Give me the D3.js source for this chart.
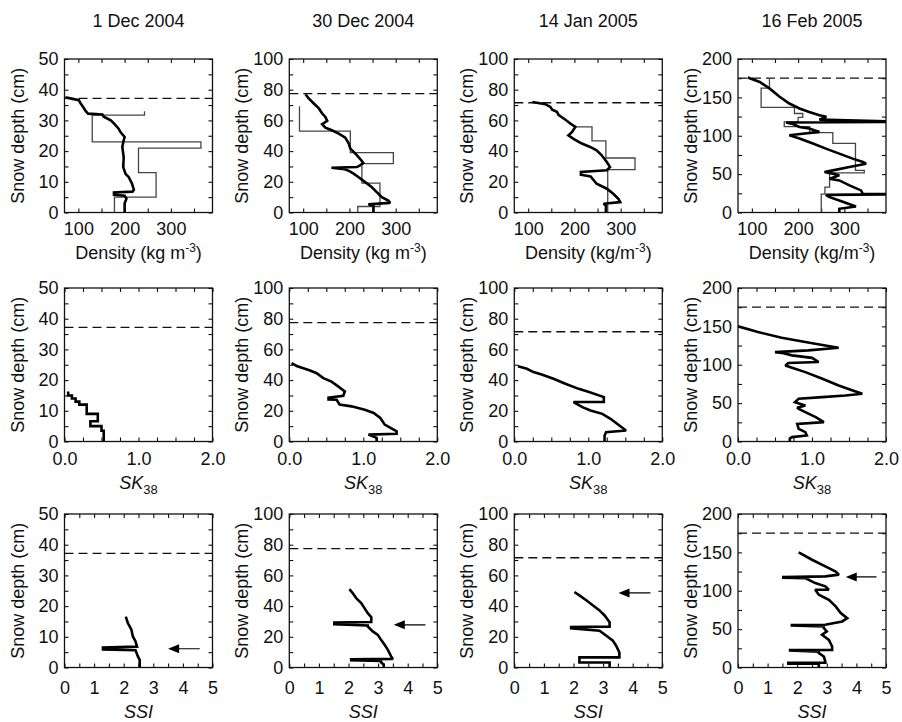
<!DOCTYPE html>
<html>
<head>
<meta charset="utf-8">
<script src="https://cdn.jsdelivr.net/npm/d3@7"></script>
<style>
body { margin: 0; background: #fff; }
svg { display: block; font-family: "Liberation Sans", Arial, Helvetica, sans-serif; }
</style>
</head>
<body>
<svg id="chart" width="902" height="722"></svg>
<script>
// one column per profile date
const dates = ["1 Dec 2004", "30 Dec 2004", "14 Jan 2005", "16 Feb 2005"];
const depthMax = [50, 100, 100, 200];
const depthMinor = [5, 10, 10, 25];
const depthMajor = [10, 20, 20, 50];
const snowDepth = [37.2, 77.5, 71.5, 175];

// row 1: density, [depth cm, kg m-3]; model = thick, obs = thin layered profile
const rhoModel1 = [[37.5,72],[36.6,101],[35.5,105],[34.2,111],[33,116],[32.2,121],[31.9,152],[31.2,155],[30,170],[29,177],[27.3,187],[26.2,191],[24.6,200],[23.5,198],[21.4,195],[18,198],[14.8,197],[12.6,202],[11.5,209],[9.4,216],[7.4,220],[6.8,217],[6.5,177],[5.8,177],[5.5,200],[4.5,204],[3,200],[0,200]];
const rhoModel2 = [[77,105],[74.3,112],[71,123],[67.8,134],[64.5,141],[62.3,148],[59.7,152],[57.5,141],[55.3,148],[53.6,162],[51.4,177],[48.8,191],[45.3,198],[41.6,202],[38.3,213],[35,223],[32.2,230],[30.7,223],[29.6,216],[29.2,161],[28.2,190],[27,200],[25.3,209],[23,220],[19.8,234],[16.6,248],[13.3,259],[10,270],[7.8,284],[6.3,288],[5.4,241],[4.4,252],[0,252]];
const rhoModel3 = [[72,109],[70.6,137],[68.8,148],[67,152],[65.6,162],[63.4,166],[60.6,180],[58,191],[55.8,202],[52.5,195],[50.3,187],[48,198],[44.9,216],[42.7,234],[40.5,248],[37.3,259],[32.9,270],[29.6,277],[27.5,270],[26.4,214],[24.6,214],[23.5,235],[18.7,248],[15.5,270],[12.2,284],[8.9,295],[6.8,299],[5.7,263],[4.5,268],[0,268]];
const rhoModel4 = [[176,91],[170,117],[161.7,138],[150.8,160],[142,181],[135.5,203],[131,224],[126.8,246],[124.6,261],[121,246],[118.2,420],[117.3,174],[115,190],[111.5,203],[109.4,224],[105,246],[102,200],[100.6,181],[96.3,203],[89.8,232],[83.2,260],[76.7,289],[70.2,318],[65.8,340],[63.6,347],[59.3,311],[54.9,275],[52.7,257],[50.5,275],[48.4,289],[44,268],[41.8,289],[35.3,311],[28.8,336],[24.4,340],[23.8,420],[23,260],[20,268],[15.7,289],[7.8,325],[4.8,289],[0,289]];
const rhoObs1 = [[33,243],[31.7,130],[23,365],[21,230],[13,268],[5,178]];
const rhoObs2 = [[69.3,92],[53,202],[39,295],[31.8,227],[19.2,266],[3.9,218]];
const rhoObs3 = [[55.8,200],[55.8,238],[46.6,268],[35.5,331],[27.9,272]];
const rhoObs4 = [[174,138],[162,120],[137,192],[129,210],[124,200],[118,170],[112,225],[104,275],[90,324],[55,343],[51.5,268],[33,258],[24,250]];

// row 2: SK38, [depth, SK38]
const sk1 = [[16.3,0.05],[15,0.05],[15,0.1],[14,0.1],[14,0.15],[13,0.15],[13,0.2],[12,0.2],[12,0.3],[9,0.3],[9,0.45],[6.6,0.45],[6.6,0.35],[5,0.35],[5,0.5],[3.5,0.5],[3.5,0.53],[0,0.53]];
const sk2 = [[51,0.03],[49.2,0.1],[47.7,0.19],[46.2,0.28],[44.5,0.37],[41.3,0.46],[39,0.57],[35.9,0.66],[32.6,0.75],[29.8,0.73],[28.6,0.53],[27.4,0.53],[27.2,0.64],[24,0.68],[22.9,0.84],[20.7,1.02],[18.6,1.14],[15.3,1.23],[11,1.29],[7.8,1.41],[6.7,1.45],[5,1.45],[4.5,1.07],[2.4,1.18],[0,1.18]];
const sk3 = [[49,0.05],[47.4,0.17],[45.2,0.26],[43.7,0.37],[40.9,0.53],[37.6,0.69],[34.3,0.87],[32.2,1.01],[28.9,1.21],[25.7,1.21],[25.7,0.8],[22.4,0.92],[20.2,1.03],[18,1.19],[14.8,1.3],[10.4,1.42],[7.2,1.51],[6.1,1.24],[3.9,1.22],[0,1.22]];
const sk4 = [[150,0],[142.6,0.27],[135.2,0.59],[129.6,0.91],[125.2,1.18],[122.2,1.36],[118.7,0.95],[116.5,0.5],[115.5,0.59],[112.2,0.73],[109,1.0],[103.5,1.09],[102.2,0.68],[99,0.64],[96,0.73],[90.4,0.91],[81.7,1.14],[73,1.36],[66.5,1.55],[62.2,1.68],[60,1.45],[57.8,1.14],[55.7,0.82],[51.3,0.77],[47,0.91],[44,0.8],[42.6,0.82],[38.3,0.91],[31.7,1.05],[25.2,1.16],[23,0.8],[16.5,0.82],[12.2,0.91],[7.8,0.93],[5.7,0.73],[4,0.7],[0,0.7]];

// row 3: SSI, [depth, SSI]
const ssi1 = [[16.6,2.07],[14.5,2.14],[12.3,2.26],[10.1,2.31],[8.5,2.4],[6.8,2.45],[6.5,1.3],[5.9,1.3],[5.6,2.4],[3.6,2.48],[2.5,2.54],[0,2.54]];
const ssi2 = [[51,2.03],[48.5,2.14],[45.2,2.26],[42,2.43],[38.7,2.54],[35.4,2.65],[32.8,2.77],[29.6,2.77],[29.3,1.52],[28.2,1.52],[27.4,2.65],[26.7,2.65],[23.5,2.82],[21.3,2.99],[18,3.1],[14.8,3.22],[11.5,3.33],[7.2,3.44],[5.6,3.5],[5.3,2.09],[4.7,2.09],[4.2,3.1],[3.3,3.1],[2,3.19],[0,3.19]];
const ssi3 = [[49.2,2.03],[47,2.2],[43.8,2.43],[40.5,2.65],[37.2,2.88],[33.9,3.05],[29.5,3.22],[26.6,3.22],[26.4,1.92],[25.6,1.92],[24,2.88],[20.8,3.1],[17.5,3.33],[14.2,3.44],[9.8,3.55],[6.6,3.55],[6.6,2.2],[3.3,2.2],[3.3,3.22],[0,3.22]];
const ssi4 = [[150,2.05],[140.4,2.5],[131.7,2.95],[125,3.3],[121,3.41],[118.7,2.95],[117.8,1.53],[117,1.53],[116.5,2.27],[110,2.61],[105.7,2.95],[101.3,3.07],[101.3,2.61],[94.8,2.73],[88.3,3.07],[79.6,3.3],[70.9,3.47],[64.3,3.69],[60,3.52],[55.7,2.95],[55.2,1.82],[54.6,1.82],[53.5,2.9],[51.3,2.9],[47,3.0],[42.6,2.84],[36,3.07],[27.4,3.18],[23,3.18],[22.6,1.76],[22,1.76],[20.5,2.73],[18.7,2.73],[14.3,2.9],[7.8,2.95],[6.4,2.95],[6.2,1.7],[5,1.7],[4.8,2.73],[0,2.73]];

// arrows in the SSI row: depth, tail, head
const arrowDepth = [6.1, 27.8, 48.6, 118];
const arrowFrom = [4.57, 4.6, 4.6, 4.68];
const arrowTo = [3.5, 3.53, 3.52, 3.64];

const rhoModel = [rhoModel1, rhoModel2, rhoModel3, rhoModel4];
const rhoObs = [rhoObs1, rhoObs2, rhoObs3, rhoObs4];
const skData = [sk1, sk2, sk3, sk4];
const ssiData = [ssi1, ssi2, ssi3, ssi4];

const colLeft = [64.5, 289.3, 514.3, 738];
const rowTop = [59, 288, 514];
const W = 148, H = 153.5;
const fontSize = 18;

const svg = d3.select("#chart");

const rows = [
  { domain: [70, 390], minor: d3.range(100, 351, 50), major: [100, 200, 300], fmt: d3.format("d"), pad: 10, labelY: 46 },
  { domain: [0, 2], minor: d3.range(0, 2.01, 0.25), major: [0, 1, 2], fmt: d3.format(".1f"), pad: 11, labelY: 47 },
  { domain: [0, 5], minor: d3.range(0, 5.01, 0.5), major: [0, 1, 2, 3, 4, 5], fmt: d3.format("d"), pad: 14, labelY: 50 }
];

function near(v, arr) { return arr.some(a => Math.abs(a - v) < 1e-6); }

function styleAxis(sel) {
  sel.attr("font-size", fontSize).attr("font-family", null);
  sel.select(".domain").remove();
  sel.selectAll("line").attr("stroke", "#111").attr("stroke-width", 1.1);
  sel.selectAll("text").attr("fill", "#111");
}

const line = d3.line().curve(d3.curveLinear);
const stepLine = d3.line().curve(d3.curveStepBefore);

rows.forEach((r, ri) => {
  dates.forEach((date, ci) => {
    const g = svg.append("g").attr("transform", `translate(${colLeft[ci]},${rowTop[ri]})`);
    const x = d3.scaleLinear().domain(r.domain).range([0, W]);
    const y = d3.scaleLinear().domain([0, depthMax[ci]]).range([H, 0]);
    const yTicks = d3.range(0, depthMax[ci] + 1e-9, depthMinor[ci]);
    const yMajor = d3.range(0, depthMax[ci] + 1e-9, depthMajor[ci]);

    const clipId = `clip-${ri}-${ci}`;
    g.append("clipPath").attr("id", clipId)
      .append("rect").attr("width", W).attr("height", H);

    g.append("g").call(d3.axisLeft(y).tickValues(yTicks)
        .tickFormat(d => near(d, yMajor) ? d : "")
        .tickSizeInner(-4).tickSizeOuter(0).tickPadding(6))
      .call(styleAxis);
    g.append("g").attr("transform", `translate(${W},0)`)
      .call(d3.axisRight(y).tickValues(yTicks).tickFormat("").tickSizeInner(-4).tickSizeOuter(0))
      .call(styleAxis);
    g.append("g").attr("transform", `translate(0,${H})`)
      .call(d3.axisBottom(x).tickValues(r.minor)
        .tickFormat(d => near(d, r.major) ? r.fmt(d) : "")
        .tickSizeInner(-4).tickSizeOuter(0).tickPadding(r.pad))
      .call(styleAxis);
    g.append("g")
      .call(d3.axisTop(x).tickValues(r.minor).tickFormat("").tickSizeInner(-4).tickSizeOuter(0))
      .call(styleAxis);

    const plot = g.append("g").attr("clip-path", `url(#${clipId})`);

    plot.append("line")
      .attr("x1", 0).attr("x2", W)
      .attr("y1", y(snowDepth[ci])).attr("y2", y(snowDepth[ci]))
      .attr("stroke", "#111").attr("stroke-width", 1.3)
      .attr("stroke-dasharray", "9,5");

    if (ri === 0) {
      const obs = rhoObs[ci].map(d => [x(d[1]), y(d[0])]);
      obs.push([x(rhoObs[ci][rhoObs[ci].length - 1][1]), y(0)]);
      plot.append("path").attr("d", stepLine(obs))
        .attr("fill", "none").attr("stroke", "#444").attr("stroke-width", 1.3);
    }

    const series = ri === 0 ? rhoModel[ci] : ri === 1 ? skData[ci] : ssiData[ci];
    plot.append("path")
      .attr("d", line(series.map(d => [x(d[1]), y(d[0])])))
      .attr("fill", "none").attr("stroke", "#000").attr("stroke-width", 2.6)
      .attr("stroke-linejoin", "miter").attr("stroke-miterlimit", 2);

    if (ri === 2) {
      const ay = y(arrowDepth[ci]);
      const xt = x(arrowTo[ci]);
      plot.append("line")
        .attr("x1", x(arrowFrom[ci])).attr("x2", xt + 8)
        .attr("y1", ay).attr("y2", ay)
        .attr("stroke", "#000").attr("stroke-width", 1.2);
      plot.append("path")
        .attr("d", `M${xt},${ay}L${xt + 11},${ay - 4.5}L${xt + 11},${ay + 4.5}Z`)
        .attr("fill", "#000");
    }

    g.append("rect").attr("width", W).attr("height", H)
      .attr("fill", "none").attr("stroke", "#111").attr("stroke-width", 1.3);

    // y label
    g.append("text")
      .attr("transform", `translate(-41,${H / 2}) rotate(-90)`)
      .attr("text-anchor", "middle").attr("font-size", fontSize).attr("fill", "#111")
      .text("Snow depth (cm)");

    // x label
    const xl = g.append("text")
      .attr("x", W / 2).attr("y", H + r.labelY)
      .attr("text-anchor", "middle").attr("font-size", fontSize).attr("fill", "#111");
    if (ri === 0) {
      xl.append("tspan").text(ci < 2 ? "Density (kg m" : "Density (kg/m");
      xl.append("tspan").attr("dy", -7).attr("font-size", 12).text("-3");
      xl.append("tspan").attr("dy", 7).text(")");
    } else if (ri === 1) {
      xl.append("tspan").attr("font-style", "italic").text("SK");
      xl.append("tspan").attr("dy", 5).attr("font-size", 13).text("38");
    } else {
      xl.append("tspan").attr("font-style", "italic").text("SSI");
    }

    if (ri === 0) {
      g.append("text").attr("x", W / 2).attr("y", -32)
        .attr("text-anchor", "middle").attr("font-size", fontSize).attr("fill", "#111")
        .text(date);
    }
  });
});
</script>
</body>
</html>
